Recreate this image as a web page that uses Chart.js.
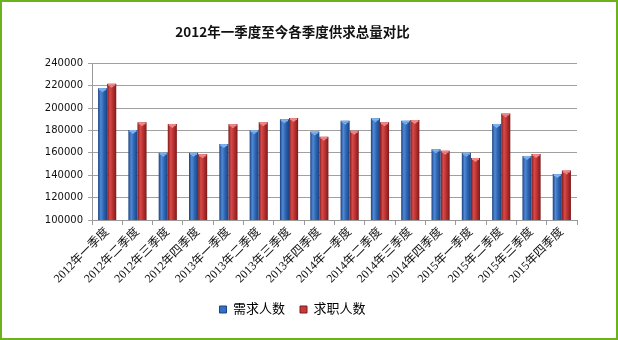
<!DOCTYPE html>
<html>
<head>
<meta charset="utf-8">
<script src="https://cdn.jsdelivr.net/npm/chart.js@4/dist/chart.umd.min.js"></script>
<style>
  html, body { margin: 0; padding: 0; background: #fff; }
  #wrap { position: relative; width: 618px; height: 340px; }
  #frame { position: absolute; left: 0; top: 0; width: 618px; height: 340px;
           box-sizing: border-box; border: 2px solid #6cb21c; pointer-events: none; }
</style>
</head>
<body>
<div id="wrap">
  <canvas id="supplyChart" width="618" height="340"></canvas>
  <div id="frame"></div>
</div>
<script>
const quarters = [
  '2012年一季度','2012年二季度','2012年三季度','2012年四季度',
  '2013年一季度','2013年二季度','2013年三季度','2013年四季度',
  '2014年一季度','2014年二季度','2014年三季度','2014年四季度',
  '2015年一季度','2015年二季度','2015年三季度','2015年四季度'
];
// 需求人数
const demand = [217600,180400,160100,160000,167800,180200,189900,179000,
                188700,190800,188700,163100,160100,185800,157200,141000];
// 求职人数
const seekers = [221700,187200,185800,158600,185500,187200,191000,174300,
                 179600,187200,189300,161900,155400,195200,158900,144200];
const yTicks = [100000,120000,140000,160000,180000,200000,220000,240000];

const catPct = 0.6;

// cylinder-ish shading across each bar
function barFill(light, mid, dark) {
    return function (context) {
        const chart = context.chart;
        const xs = chart.scales.x;
        if (!chart.chartArea || !xs) return mid;
        const cw = xs.width / quarters.length;
        const bw = cw * catPct / 2;
        const left = xs.getPixelForValue(context.dataIndex) - bw + context.datasetIndex * bw;
        const g = chart.ctx.createLinearGradient(left, 0, left + bw, 0);
        g.addColorStop(0, dark);
        g.addColorStop(0.3, light);
        g.addColorStop(0.6, mid);
        g.addColorStop(1, dark);
        return g;
    };
}

// light cap on top of every bar
const barCaps = {
    id: 'barCaps',
    afterDatasetsDraw(chart) {
        const ctx = chart.ctx;
        const caps = ['#7fb2ee', '#f08a8a'];
        chart.data.datasets.forEach((ds, i) => {
            chart.getDatasetMeta(i).data.forEach(bar => {
                const l = bar.x - bar.width / 2;
                ctx.save();
                ctx.fillStyle = caps[i];
                ctx.fillRect(l + 1, bar.y, bar.width - 2, 2);
                ctx.beginPath();
                ctx.moveTo(bar.x - 2.5, bar.y + 2);
                ctx.lineTo(bar.x + 2.5, bar.y + 2);
                ctx.lineTo(bar.x, bar.y + 4);
                ctx.closePath();
                ctx.fill();
                ctx.restore();
            });
        });
    }
};

const ctx = document.getElementById('supplyChart').getContext('2d');
new Chart(ctx, {
    type: 'bar',
    data: {
        labels: quarters,
        datasets: [{
            label: '需求人数',
            data: demand,
            backgroundColor: barFill('#4f8ad6', '#2f66b4', '#1c4180'),
            borderWidth: 0
        }, {
            label: '求职人数',
            data: seekers,
            backgroundColor: barFill('#d84a4a', '#bb3232', '#7c1a1a'),
            borderWidth: 0
        }]
    },
    options: {
        responsive: false,
        animation: false,
        datasets: { bar: { categoryPercentage: catPct, barPercentage: 1 } },
        layout: { padding: { left: 8, right: 41, top: 0, bottom: 14 } },
        scales: {
            x: {
                grid: { display: true, drawOnChartArea: false, offset: true, tickLength: 5, color: '#999' },
                border: { display: true, color: '#999' },
                ticks: {
                    color: '#111',
                    font: { family: '"Liberation Serif", "Noto Sans CJK SC"', size: 12 },
                    maxRotation: 45,
                    minRotation: 45,
                    autoSkip: false,
                    padding: 0
                },
                afterFit: scale => { scale.height = 68; }
            },
            y: {
                min: 100000,
                max: 240000,
                afterBuildTicks: scale => { scale.ticks = yTicks.map(v => ({ value: v })); },
                grid: { color: '#a0a0a0', tickLength: 4 },
                border: { display: true, color: '#999' },
                ticks: {
                    color: '#111',
                    padding: 5,
                    font: { family: '"DejaVu Sans"', size: 10 },
                    callback: v => String(v)
                },
                afterFit: scale => { scale.width = 84; }
            }
        },
        plugins: {
            title: {
                display: true,
                text: '2012年一季度至今各季度供求总量对比',
                color: '#111',
                font: { family: '"Noto Sans CJK SC", "DejaVu Sans"', size: 13.5, weight: 'bold' },
                padding: { top: 24, bottom: 23 }
            },
            legend: {
                position: 'bottom',
                labels: {
                    boxWidth: 7,
                    boxHeight: 7,
                    padding: 15,
                    color: '#111',
                    font: { family: '"Liberation Serif", "Noto Sans CJK SC"', size: 13 },
                    generateLabels: () => [
                        { text: '需求人数', fillStyle: '#3570c0', strokeStyle: '#1c4180', lineWidth: 1, datasetIndex: 0 },
                        { text: '求职人数', fillStyle: '#c83a3a', strokeStyle: '#7c1a1a', lineWidth: 1, datasetIndex: 1 }
                    ]
                }
            },
            tooltip: { enabled: false }
        }
    },
    plugins: [barCaps]
});
</script>
</body>
</html>
